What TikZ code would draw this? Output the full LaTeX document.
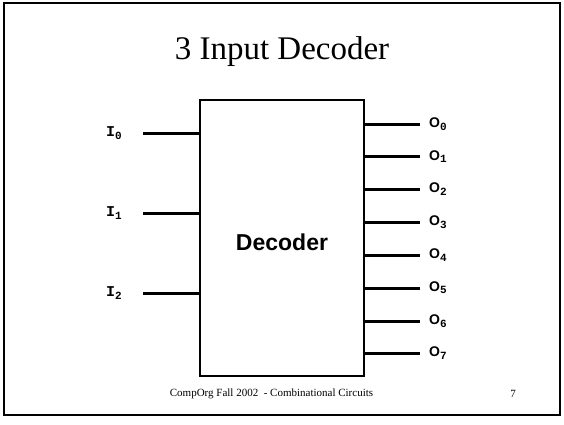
\documentclass[tikz,border=0pt]{standalone}
\usepackage{fontspec}
\setmainfont{Liberation Serif}
\newfontfamily\arialf{Liberation Sans}
\newfontfamily\courf{Liberation Mono}
\newcommand{\subdig}[1]{$_{\mbox{\courf\bfseries\fontsize{11}{11}\selectfont #1}}$}
\begin{document}
\begin{tikzpicture}[x=1pt,y=-1pt,
  wire/.style={line width=3pt},
  pin/.style={font=\courf\bfseries\fontsize{15}{15}\selectfont, inner sep=0pt},
  opin/.style={pin, anchor=west},
  ipin/.style={pin, anchor=west}]
\useasboundingbox (0,0) rectangle (564,424);
\draw[line width=2.5pt] (4,3) rectangle (560,415);
\node[font=\fontsize{33}{33}\selectfont] (title) at (282,52) {3 Input Decoder};
\draw[line width=2.2pt] (200,100) rectangle (364,376);
\node[font=\arialf\bfseries\fontsize{23}{23}\selectfont] (dec) at (282,242) {Decoder};
% inputs
\foreach \i/\y in {0/133,1/213,2/293}{
  \coordinate (ie\i) at (200,\y);
  \coordinate (is\i) at (143,\y);
  \node[ipin] (I\i) at (106,\y) {I\subdig{\i}};
  \draw[wire] (is\i) -- (ie\i);
}
% outputs
\foreach \i/\y in {0/124,1/156.5,2/189,3/222,4/255,5/288,6/321,7/353}{
  \coordinate (oe\i) at (364,\y);
  \coordinate (os\i) at (420,\y);
  \node[opin] (O\i) at (429,\y) {{\arialf\fontsize{14}{14}\selectfont O}\subdig{\i}};
  \draw[wire] (oe\i) -- (os\i);
}
\node[font=\fontsize{11}{11}\selectfont] (foot) at (271.5,394) {CompOrg Fall 2002\ \ - Combinational Circuits};
\node[font=\fontsize{11}{11}\selectfont] (pg) at (513,394) {7};
\end{tikzpicture}
\end{document}
